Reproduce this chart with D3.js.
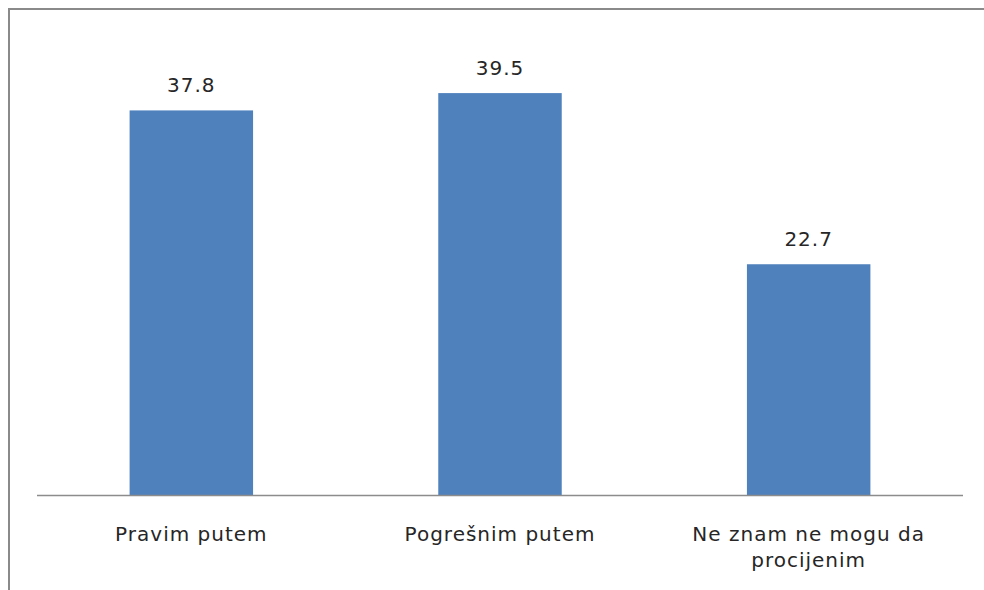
<!DOCTYPE html>
<html>
<head>
<meta charset="utf-8">
<script src="https://cdn.jsdelivr.net/npm/d3@7"></script>
<style>
  body { margin: 0; background: #fff; }
  text { font-family: "DejaVu Sans", sans-serif; fill: #262626; letter-spacing: 1px; }
</style>
</head>
<body>
<script>
// chart data
let categories = ["Pravim putem", "Pogrešnim putem", "Ne znam ne mogu da procijenim"];
let values = [37.8, 39.5, 22.7];

let width = 984;
let height = 590;

let svg = d3.select("body")
  .append("svg")
  .attr("width", width)
  .attr("height", height);

// frame (only top and left edges are inside the picture)
svg.append("rect")
  .attr("x", 9)
  .attr("y", 9)
  .attr("width", 1200)
  .attr("height", 1200)
  .attr("fill", "none")
  .attr("stroke", "#8a8a8a")
  .attr("stroke-width", 2);

let x = d3.scaleBand()
  .domain(categories)
  .range([37, 963])
  .paddingInner(0.6)
  .paddingOuter(0.3);

let y = d3.scaleLinear()
  .domain([0, 40])
  .range([495.5, 88]);

let data = categories.map((c, i) => ({ cat: c, val: values[i] }));

svg.selectAll(".bar")
  .data(data)
  .enter()
  .append("rect")
  .classed("bar", true)
  .attr("x", d => x(d.cat))
  .attr("y", d => y(d.val))
  .attr("width", x.bandwidth())
  .attr("height", d => y(0) - y(d.val))
  .style("fill", "#4f81bd");

// value labels
svg.selectAll(".val")
  .data(data)
  .enter()
  .append("text")
  .classed("val", true)
  .attr("x", d => x(d.cat) + x.bandwidth() / 2)
  .attr("y", d => y(d.val) - 18)
  .attr("text-anchor", "middle")
  .style("font-size", "20px")
  .text(d => d.val.toFixed(1));

// baseline
svg.append("line")
  .attr("x1", 37)
  .attr("x2", 963)
  .attr("y1", y(0))
  .attr("y2", y(0))
  .attr("stroke", "#8c8c8c")
  .attr("stroke-width", 1.5);

// category labels, wrapped to the band step
let labels = svg.selectAll(".cat")
  .data(categories)
  .enter()
  .append("text")
  .classed("cat", true)
  .attr("x", d => x(d) + x.bandwidth() / 2)
  .attr("y", 541)
  .attr("text-anchor", "middle")
  .style("font-size", "20px")
  .text(d => d);

labels.each(function(d) {
  let t = d3.select(this);
  let words = d.split(" ");
  let cx = t.attr("x");
  t.text(null);
  let line = [];
  let lineNo = 0;
  let tspan = t.append("tspan").attr("x", cx).attr("dy", 0);
  words.forEach(w => {
    line.push(w);
    tspan.text(line.join(" "));
    if (tspan.node().getComputedTextLength() > x.step() - 20 && line.length > 1) {
      line.pop();
      tspan.text(line.join(" "));
      line = [w];
      lineNo++;
      tspan = t.append("tspan").attr("x", cx).attr("dy", 26).text(w);
    }
  });
});
</script>
</body>
</html>
